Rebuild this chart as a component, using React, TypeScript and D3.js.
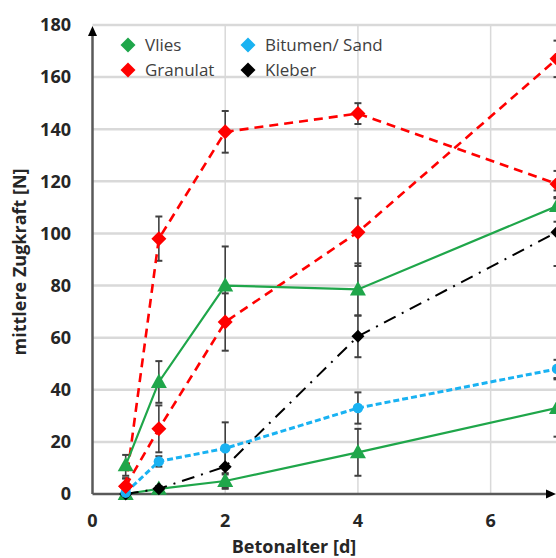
import React from 'react';
import * as d3 from 'd3';

// ---- data ----
const ages = [0.5, 1, 2, 4, 7];
const vliesA = [11, 43, 80, 78.5, 110.5];
const vliesAErr = [4, 8, 15, 10, 6];
const vliesB = [0, 2, 5, 16, 33];
const vliesBErr = [1, 1, 3, 9, 11];
const granulatA = [3, 98, 139, 146, 119];
const granulatAErr = [3, 8.5, 8, 4, 5];
const granulatB = [3, 25, 66, 100.5, 167];
const granulatBErr = [3, 9, 11, 13, 7];
const bitumen = [0.5, 12.5, 17.5, 33, 48];
const bitumenErr = [1, 2, 10, 6, 3.5];
const kleber = [0, 2, 10.5, 60.5, 100.5];
const kleberErr = [1, 1, 8, 8, 13];

const yTicks = [0, 20, 40, 60, 80, 100, 120, 140, 160, 180];
const xTicks = [0, 2, 4, 6];
const xGrid = [2, 4, 6];
const legendNames = ['Vlies', 'Granulat', 'Bitumen/ Sand', 'Kleber'];
const legendColors = ['#1fa64a', '#ff0000', '#19b2f2', '#000000'];

const GREEN = '#1fa64a';
const RED = '#ff0000';
const BLUE = '#19b2f2';
const BLACK = '#000000';

type Series = {
  values: number[];
  errs: number[];
  color: string;
  dash: string | undefined;
  width: number;
  marker: 'tri' | 'dia' | 'circ';
  msize: number;
};

const series: Series[] = [
  { values: vliesB, errs: vliesBErr, color: GREEN, dash: undefined, width: 2.2, marker: 'tri', msize: 8 },
  { values: kleber, errs: kleberErr, color: BLACK, dash: '13,7,2,7', width: 2, marker: 'dia', msize: 6.5 },
  { values: bitumen, errs: bitumenErr, color: BLUE, dash: '6,3', width: 3, marker: 'circ', msize: 5.2 },
  { values: granulatB, errs: granulatBErr, color: RED, dash: '9,6', width: 2.6, marker: 'dia', msize: 7.5 },
  { values: granulatA, errs: granulatAErr, color: RED, dash: '9,6', width: 2.6, marker: 'dia', msize: 7.5 },
  { values: vliesA, errs: vliesAErr, color: GREEN, dash: undefined, width: 2.2, marker: 'tri', msize: 8 },
];

const FONT = '"Open Sans", "DejaVu Sans", sans-serif';

function markerPath(kind: string, r: number): string {
  if (kind === 'tri') {
    return `M0,${-r * 1.05} L${r * 1.0},${r * 0.75} L${-r * 1.0},${r * 0.75} Z`;
  }
  if (kind === 'dia') {
    return `M0,${-r} L${r},0 L0,${r} L${-r},0 Z`;
  }
  return d3.symbol(d3.symbolCircle, Math.PI * r * r)() || '';
}

export default function App() {
  const W = 556;
  const H = 558;
  const x = d3.scaleLinear().domain([0, 7]).range([92.5, 557]);
  const y = d3.scaleLinear().domain([0, 180]).range([494, 25]);

  const line = d3
    .line<[number, number]>()
    .x((d) => x(d[0]))
    .y((d) => y(d[1]));

  const axisColor = '#595959';
  const gridColor = '#d9d9d9';
  const errColor = '#404040';

  return (
    <svg
      width={W}
      height={H}
      style={{ position: 'absolute', left: 0, top: 0, background: '#fff' }}
    >
      <rect x={0} y={0} width={W} height={H} fill="#fff" />
      {/* horizontal gridlines */}
      {yTicks
        .filter((t) => t > 0)
        .map((t) => (
          <line key={'hg' + t} x1={x(0)} x2={W} y1={y(t)} y2={y(t)} stroke={gridColor} strokeWidth={2.5} />
        ))}
      {/* vertical gridlines */}
      {xGrid.map((t) => (
        <line key={'vg' + t} x1={x(t)} x2={x(t)} y1={y(180)} y2={y(0)} stroke={gridColor} strokeWidth={1.5} />
      ))}

      {/* axes */}
      <line x1={x(0)} x2={x(0)} y1={y(0)} y2={y(180) + 8} stroke={axisColor} strokeWidth={2.5} />
      <path
        d={`M${x(0)},${y(180) + 1} L${x(0) + 4.5},${y(180) + 11} L${x(0) - 4.5},${y(180) + 11} Z`}
        fill="#000"
      />
      <line x1={x(0)} x2={W - 8} y1={y(0)} y2={y(0)} stroke={axisColor} strokeWidth={2.5} />
      <path d={`M${W},${y(0)} L${W - 10},${y(0) - 4.5} L${W - 10},${y(0) + 4.5} Z`} fill="#000" />

      {/* error bars */}
      {series.map((s, si) =>
        s.values.map((v, i) => {
          const cx = x(ages[i]);
          const top = y(v + s.errs[i]);
          const bot = y(Math.max(0, v - s.errs[i]));
          return (
            <g key={`e${si}-${i}`}>
              <line x1={cx} x2={cx} y1={top} y2={bot} stroke={errColor} strokeWidth={1.6} />
              <line x1={cx - 3.5} x2={cx + 3.5} y1={top} y2={top} stroke={errColor} strokeWidth={2} />
              <line x1={cx - 3.5} x2={cx + 3.5} y1={bot} y2={bot} stroke={errColor} strokeWidth={2} />
            </g>
          );
        })
      )}

      {/* lines */}
      {series.map((s, si) => (
        <path
          key={'l' + si}
          d={line(s.values.map((v, i) => [ages[i], v] as [number, number])) || ''}
          fill="none"
          stroke={s.color}
          strokeWidth={s.width}
          strokeDasharray={s.dash}
        />
      ))}

      {/* markers */}
      {series.map((s, si) =>
        s.values.map((v, i) => (
          <path
            key={`m${si}-${i}`}
            d={markerPath(s.marker, s.msize)}
            transform={`translate(${x(ages[i])},${y(v)})`}
            fill={s.color}
          />
        ))
      )}

      {/* y tick labels */}
      {yTicks.map((t) => (
        <text
          key={'yt' + t}
          x={71}
          y={y(t)}
          dy="0.35em"
          textAnchor="end"
          fontFamily={FONT}
          fontWeight="bold"
          fontSize={18}
          fill="#262626"
        >
          {t}
        </text>
      ))}
      {/* x tick labels */}
      {xTicks.map((t) => (
        <text
          key={'xt' + t}
          x={x(t)}
          y={527}
          textAnchor="middle"
          fontFamily={FONT}
          fontWeight="bold"
          fontSize={18}
          fill="#262626"
        >
          {t}
        </text>
      ))}

      {/* axis titles */}
      <text
        x={294}
        y={553}
        textAnchor="middle"
        fontFamily={FONT}
        fontWeight="bold"
        fontSize={18}
        fill="#262626"
      >
        Betonalter [d]
      </text>
      <text
        transform={`translate(26,262) rotate(-90)`}
        textAnchor="middle"
        fontFamily={FONT}
        fontWeight="bold"
        fontSize={18}
        fill="#262626"
      >
        mittlere Zugkraft [N]
      </text>

      {/* legend */}
      {legendNames.map((name, i) => {
        const col = Math.floor(i / 2);
        const row = i % 2;
        const lx = 128 + col * 120;
        const ly = 45 + row * 25;
        return (
          <g key={'lg' + i}>
            <path d={markerPath('dia', 7.5)} transform={`translate(${lx},${ly})`} fill={legendColors[i]} />
            <text
              x={lx + 17}
              y={ly}
              dy="0.36em"
              fontFamily={FONT}
              fontSize={17}
              fill="#404040"
            >
              {name}
            </text>
          </g>
        );
      })}
    </svg>
  );
}
